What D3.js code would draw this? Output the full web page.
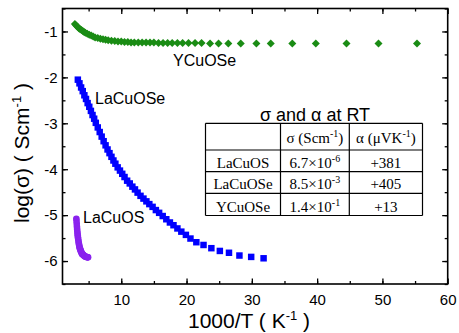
<!DOCTYPE html>
<html><head><meta charset="utf-8">
<script src="https://cdn.jsdelivr.net/npm/d3@7"></script>
<style>body{margin:0;background:#fff}svg{display:block}</style>
</head><body>
<script>
// ---------- data ----------
const yTicks = [-1, -2, -3, -4, -5, -6];
const xTicks = [10, 20, 30, 40, 50, 60];

const ycuoseX = [2.9,3.1,3.3,3.5,3.7,3.9,4.1,4.3,4.5,4.8,5.1,5.4,5.7,6.0,6.4,6.8,7.2,7.6,8.0,8.5,9.0,9.5,10.0,10.5,11.0,11.5,12.0,12.6,13.2,13.8,14.4,15.0,15.7,16.4,17.1,17.8,18.6,19.4,20.3,21.3,22.3,23.6,24.9,26.4,28.3,30.7,32.9,36.2,39.8,44.5,49.4,55.3];
const ycuoseY = [-0.84,-0.87,-0.90,-0.93,-0.95,-0.97,-0.99,-1.01,-1.03,-1.05,-1.07,-1.09,-1.11,-1.13,-1.14,-1.16,-1.17,-1.18,-1.19,-1.20,-1.21,-1.22,-1.22,-1.23,-1.23,-1.24,-1.24,-1.24,-1.24,-1.24,-1.24,-1.24,-1.25,-1.25,-1.25,-1.25,-1.25,-1.25,-1.25,-1.25,-1.25,-1.26,-1.26,-1.26,-1.26,-1.26,-1.26,-1.26,-1.26,-1.26,-1.26,-1.26];

const lacuoseX = [3.35,3.6,3.85,4.1,4.35,4.6,4.85,5.1,5.35,5.6,5.85,6.1,6.4,6.7,7.0,7.3,7.6,7.9,8.2,8.5,8.8,9.1,9.45,9.8,10.15,10.5,10.9,11.3,11.7,12.1,12.5,12.95,13.4,13.85,14.3,14.8,15.3,15.8,16.35,16.9,17.45,18.0,18.6,19.2,19.9,20.6,21.5,22.6,23.8,25.1,26.5,28.1,29.9,31.8];
const lacuoseY = [-2.05,-2.13,-2.22,-2.30,-2.39,-2.47,-2.56,-2.64,-2.73,-2.82,-2.90,-2.99,-3.09,-3.19,-3.29,-3.39,-3.48,-3.57,-3.65,-3.73,-3.81,-3.88,-3.96,-4.03,-4.10,-4.17,-4.25,-4.31,-4.38,-4.44,-4.51,-4.58,-4.64,-4.70,-4.76,-4.82,-4.89,-4.95,-5.02,-5.09,-5.16,-5.22,-5.29,-5.36,-5.43,-5.51,-5.59,-5.65,-5.72,-5.78,-5.82,-5.88,-5.91,-5.94];

const lacuosX = [3.12,3.15,3.18,3.21,3.24,3.27,3.30,3.33,3.36,3.40,3.44,3.48,3.52,3.56,3.60,3.65,3.70,3.75,3.80,3.86,3.92,3.98,4.05,4.12,4.20,4.28,4.36,4.45,4.55,4.65,4.75,4.85,4.92];
const lacuosY = [-5.08,-5.13,-5.19,-5.25,-5.30,-5.35,-5.40,-5.44,-5.48,-5.52,-5.56,-5.60,-5.63,-5.66,-5.69,-5.72,-5.74,-5.76,-5.78,-5.80,-5.82,-5.84,-5.85,-5.86,-5.87,-5.88,-5.89,-5.90,-5.905,-5.91,-5.915,-5.92,-5.92];

const tableTitle = "σ and α at RT";
const tableRows = ["LaCuOS", "LaCuOSe", "YCuOSe"];
const sigmaMant = ["6.7×10", "8.5×10", "1.4×10"];
const sigmaExp = ["-6", "-3", "-1"];
const alphaVals = ["+381", "+405", "+13"];

// ---------- drawing ----------
const W = 459, H = 333;
const svg = d3.select("body").append("svg").attr("width", W).attr("height", H);
const x = d3.scaleLinear().domain([1, 60]).range([62.5, 447.7]);
const y = d3.scaleLinear().domain([-6.5, -0.5]).range([284, 8.5]);
const sans = "Arial, 'Liberation Sans', Helvetica, sans-serif";
const serif = "'Times New Roman', 'Liberation Serif', serif";

// data
const green = "#1a8c14", blue = "#0000ff", purple = "#8a22ee";
const g = svg.append("g");
g.selectAll("path.y").data(d3.zip(ycuoseX, ycuoseY)).join("path")
  .attr("transform", d => `translate(${x(d[0])},${y(d[1])}) rotate(45)`)
  .attr("d", d3.symbol().type(d3.symbolSquare).size(32)).attr("fill", green);
g.selectAll("path.b").data(d3.zip(lacuoseX, lacuoseY)).join("path")
  .attr("transform", d => `translate(${x(d[0])},${y(d[1])})`)
  .attr("d", d3.symbol().type(d3.symbolSquare).size(42)).attr("fill", blue);
g.selectAll("circle.p").data(d3.zip(lacuosX, lacuosY)).join("circle")
  .attr("cx", d => x(d[0])).attr("cy", d => y(d[1])).attr("r", 3.3).attr("fill", purple);

// axes (inward ticks on all sides)
const axisStyle = sel => { sel.select(".domain").remove(); sel.selectAll("line").attr("stroke", "#000").attr("stroke-width", 1.3); };
const xMinor = d3.range(5, 60, 5);
const yMinor = d3.range(-6.5, -0.49, 0.5);
svg.append("g").attr("transform", `translate(0,${y.range()[0]})`)
  .call(d3.axisBottom(x).tickValues(xMinor).tickSize(-3).tickFormat("")).call(axisStyle);
svg.append("g").attr("transform", `translate(0,${y.range()[0]})`)
  .call(d3.axisBottom(x).tickValues(xTicks).tickSize(-5.5).tickPadding(10.5).tickFormat(d3.format("d")))
  .call(axisStyle).call(s => s.selectAll("text").attr("font-family", sans).attr("font-size", 15).attr("fill", "#000"));
svg.append("g").attr("transform", `translate(0,${y.range()[1]})`)
  .call(d3.axisTop(x).tickValues(xMinor).tickSize(-3).tickFormat("")).call(axisStyle);
svg.append("g").attr("transform", `translate(0,${y.range()[1]})`)
  .call(d3.axisTop(x).tickValues(xTicks).tickSize(-5.5).tickFormat("")).call(axisStyle);
svg.append("g").attr("transform", `translate(${x.range()[0]},0)`)
  .call(d3.axisLeft(y).tickValues(yMinor).tickSize(-3).tickFormat("")).call(axisStyle);
svg.append("g").attr("transform", `translate(${x.range()[0]},0)`)
  .call(d3.axisLeft(y).tickValues(yTicks).tickSize(-5.5).tickPadding(5).tickFormat(d => String(d).replace("−","-")))
  .call(axisStyle).call(s => s.selectAll("text").attr("font-family", sans).attr("font-size", 15).attr("fill", "#000"));
svg.append("g").attr("transform", `translate(${x.range()[1]},0)`)
  .call(d3.axisRight(y).tickValues(yMinor).tickSize(-3).tickFormat("")).call(axisStyle);
svg.append("g").attr("transform", `translate(${x.range()[1]},0)`)
  .call(d3.axisRight(y).tickValues(yTicks).tickSize(-5.5).tickFormat("")).call(axisStyle);
svg.append("rect").attr("x", x.range()[0]).attr("y", y.range()[1])
  .attr("width", x.range()[1] - x.range()[0]).attr("height", y.range()[0] - y.range()[1])
  .attr("fill", "none").attr("stroke", "#000").attr("stroke-width", 1.6);

// axis titles
const xl = svg.append("text").attr("x", 249).attr("y", 328).attr("text-anchor", "middle")
  .attr("font-family", sans).attr("font-size", 21);
xl.append("tspan").text("1000/T ( K");
xl.append("tspan").attr("dy", -8).attr("font-size", 13).text("-1");
xl.append("tspan").attr("dy", 8).text(" )");
const yl = svg.append("text").attr("transform", "translate(29,153) rotate(-90)").attr("text-anchor", "middle")
  .attr("font-family", sans).attr("font-size", 21);
yl.append("tspan").text("log(σ) ( Scm");
yl.append("tspan").attr("dy", -8).attr("font-size", 13).text("-1");
yl.append("tspan").attr("dy", 8).text(" )");

// series labels
const lab = (t, px, py) => svg.append("text").attr("x", px).attr("y", py).attr("font-family", sans).attr("font-size", 16).text(t);
lab("YCuOSe", 173, 66);
lab("LaCuOSe", 95, 104);
lab("LaCuOS", 83, 223);

// table
svg.append("text").attr("x", 315).attr("y", 121).attr("text-anchor", "middle")
  .attr("font-family", sans).attr("font-size", 18).text(tableTitle);
const colX = [205.5, 280.5, 349.3, 422.5];
const rowY = [123.3, 150, 171.7, 193.3, 215.5];
const tg = svg.append("g").attr("stroke", "#000").attr("stroke-width", 1.2);
colX.forEach(cx => tg.append("line").attr("x1", cx).attr("x2", cx).attr("y1", rowY[0]).attr("y2", rowY[4]));
rowY.forEach(ry => tg.append("line").attr("x1", colX[0]).attr("x2", colX[3]).attr("y1", ry).attr("y2", ry));
const cell = (ci, ri) => svg.append("text").attr("x", (colX[ci] + colX[ci + 1]) / 2).attr("y", rowY[ri + 1] - (ri === 0 ? 7 : 4))
  .attr("text-anchor", "middle").attr("font-family", serif).attr("font-size", 15);
let h1 = cell(1, 0); h1.append("tspan").text("σ (Scm"); h1.append("tspan").attr("dy", -6).attr("font-size", 10).text("-1"); h1.append("tspan").attr("dy", 6).text(")");
let h2 = cell(2, 0); h2.append("tspan").text("α (μVK"); h2.append("tspan").attr("dy", -6).attr("font-size", 10).text("-1"); h2.append("tspan").attr("dy", 6).text(")");
tableRows.forEach((r, i) => {
  cell(0, i + 1).text(r);
  const s = cell(1, i + 1); s.append("tspan").text(sigmaMant[i]); s.append("tspan").attr("dy", -6).attr("font-size", 10).text(sigmaExp[i]);
  cell(2, i + 1).text(alphaVals[i]);
});
</script>
</body></html>
